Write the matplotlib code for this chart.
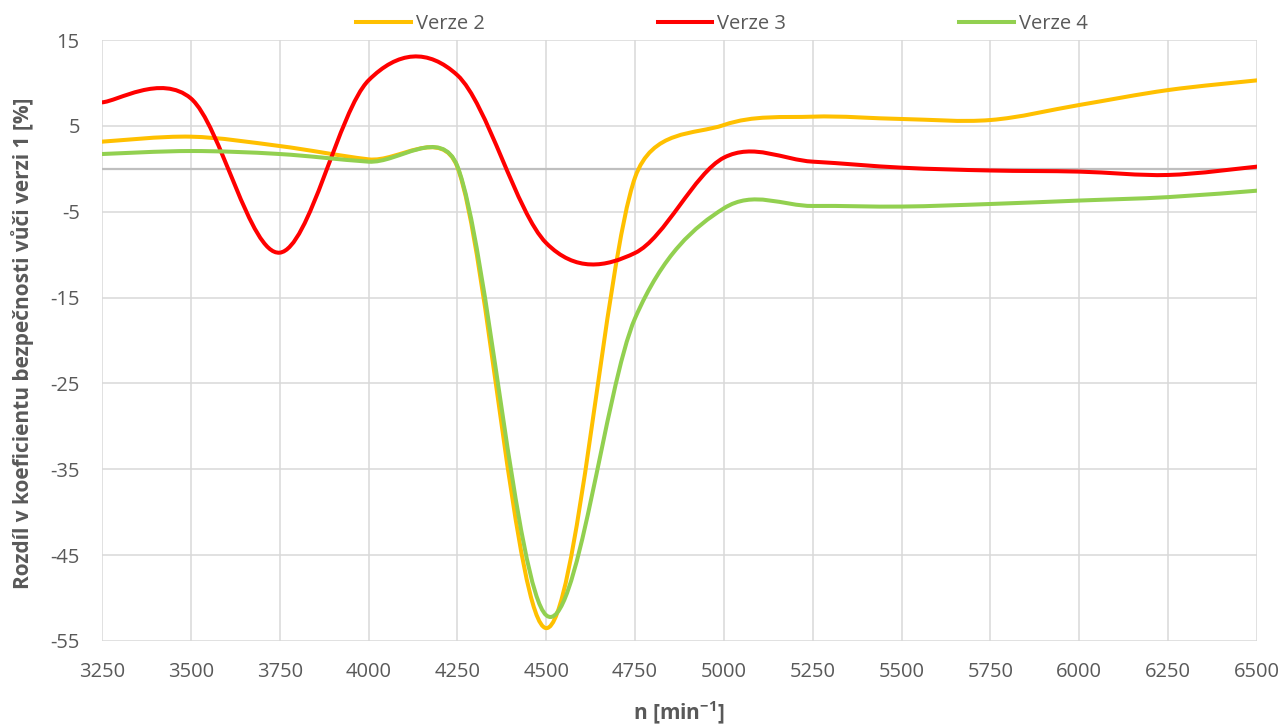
import matplotlib
matplotlib.use("Agg")
import matplotlib.pyplot as plt
import numpy as np
from matplotlib.path import Path
from matplotlib.patches import PathPatch
from matplotlib.lines import Line2D

rpm = [3250, 3500, 3750, 4000, 4250, 4500, 4750, 5000, 5250, 5500, 5750, 6000, 6250, 6500]
verze2 = [3.16, 3.74, 2.65, 1.1, 0.2, -53.5, -1.0, 5.1, 6.07, 5.8, 5.68, 7.43, 9.17, 10.3]
verze3 = [7.74, 8.2, -9.77, 10.3, 10.9, -8.65, -9.8, 1.3, 0.83, 0.13, -0.2, -0.33, -0.72, 0.25]
verze4 = [1.72, 2.07, 1.72, 0.83, 0.3, -52.0, -17.4, -4.6, -4.33, -4.4, -4.1, -3.7, -3.3, -2.55]

labels = ['Verze 2', 'Verze 3', 'Verze 4']
colors = ['#FFC000', '#FF0000', '#92D050']
yticks = [15, 5, -5, -15, -25, -35, -45, -55]

grey = '#595959'
plt.rcParams['font.family'] = ['Open Sans', 'DejaVu Sans']
plt.rcParams['axes.unicode_minus'] = False
plt.rcParams['mathtext.fontset'] = 'custom'
plt.rcParams['mathtext.rm'] = 'Open Sans'
plt.rcParams['mathtext.bf'] = 'Open Sans:bold'


def smooth_path(ax, xs, ys):
    # Excel-like smoothed line: bezier segments built in screen space
    pts = ax.transData.transform(np.column_stack([xs, ys]))
    n = len(pts)
    verts = [pts[0]]
    for i in range(n - 1):
        p0 = pts[max(i - 1, 0)]
        p1 = pts[i]
        p2 = pts[i + 1]
        p3 = pts[min(i + 2, n - 1)]
        lim = 0.5 * np.hypot(*(p2 - p1))
        a1 = (p2 - p0) / 6
        a2 = (p3 - p1) / 6
        if np.hypot(*a1) > lim:
            a1 = a1 * lim / np.hypot(*a1)
        if np.hypot(*a2) > lim:
            a2 = a2 * lim / np.hypot(*a2)
        verts += [p1 + a1, p2 - a2, p2]
    codes = [Path.MOVETO] + [Path.CURVE4] * (3 * (n - 1))
    verts = ax.transData.inverted().transform(np.array(verts))
    return Path(verts, codes)


fig = plt.figure(figsize=(12.85, 7.27), dpi=100)
ax = fig.add_axes([102 / 1285, 1 - 641 / 727, 1155 / 1285, 601 / 727])
ax.set_xlim(3250, 6500)
ax.set_ylim(-55, 15)
ax.set_xticks(rpm)
ax.set_yticks(yticks)
ax.grid(True, color='#D9D9D9', linewidth=1.1)
ax.set_axisbelow(True)
ax.axhline(0, color='#BFBFBF', linewidth=1.6, zorder=1)
for s in ax.spines.values():
    s.set_visible(False)
ax.tick_params(length=0, colors=grey, labelsize=14.5)
ax.tick_params(axis='x', pad=15)
ax.tick_params(axis='y', pad=16)

handles = []
for ys, c, lab in zip([verze2, verze3, verze4], colors, labels):
    p = smooth_path(ax, rpm, ys)
    ax.add_patch(PathPatch(p, fill=False, edgecolor=c, linewidth=2.9,
                           capstyle='round', joinstyle='round', zorder=3))
    handles.append(Line2D([], [], color=c, linewidth=2.9, label=lab))

fig.legend(handles=handles, loc='center', bbox_to_anchor=(722 / 1285, 1 - 24 / 727),
           ncol=3, frameon=False, fontsize=14.5, labelcolor=grey,
           handlelength=2.7, handletextpad=0.25, columnspacing=8.6)

fig.text(23 / 1285, 1 - 343 / 727, 'Rozdíl v koeficientu bezpečnosti vůči verzi 1 [%]',
         rotation=90, ha='center', va='center', color=grey, fontsize=15, fontweight='bold')
fig.text(679 / 1285, 1 - 713 / 727, 'n [min$^{\\mathbf{-1}}$]', ha='center', va='center',
         color=grey, fontsize=15, fontweight='bold')

fig.savefig('out.png', dpi=100)
